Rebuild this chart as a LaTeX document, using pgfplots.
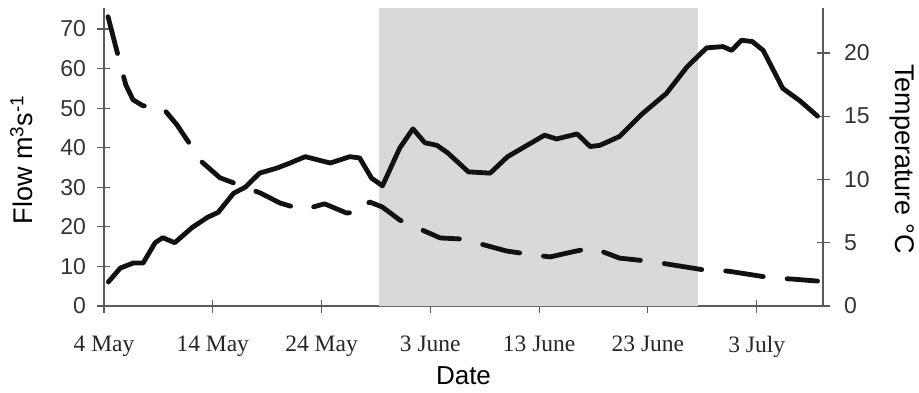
\documentclass[border=0pt]{standalone}
\usepackage{fontspec}
\setmainfont{Liberation Serif}
\setsansfont{Liberation Sans}
\usepackage{pgfplots}
\pgfplotsset{compat=1.18}
\definecolor{shade}{HTML}{D9D9D9}
\definecolor{axgray}{HTML}{5A5A5A}
\definecolor{ink}{HTML}{111111}

\begin{document}
\begin{tikzpicture}
\pgfplotsset{
 every axis/.append style={
  width=719pt, height=298pt, scale only axis,
  xmin=0, xmax=66.1, ymin=0,
  axis line style={axgray, line width=1.4pt},
  tick style={axgray, line width=1.2pt},
  major tick length=13pt, tick align=center,
  /pgf/number format/assume math mode=true,
 }
}
\begin{axis}[name=ax, ymax=75.3,
 axis x line*=bottom, axis y line*=left,
 xtick={0,10,20,30,40,50,60},
 xticklabels={4 May,14 May,24 May,3 June,13 June,23 June,3 July},
 xticklabel style={font=\fontsize{23.5}{23.5}\selectfont\rmfamily, text=black!85, anchor=north, yshift=-20pt},
 ytick={0,10,...,70},
 yticklabel style={font=\fontsize{23}{23}\selectfont\sffamily, text=black!80, xshift=-8pt},
 xlabel={Date},
 ylabel={Flow m\textsuperscript{3}s\textsuperscript{-1}},
 every axis x label/.style={at={(axis description cs:0.5,-0.235)}, anchor=center, font=\fontsize{26}{26}\selectfont\sffamily},
 every axis y label/.style={at={(axis description cs:-0.115,0.49)}, rotate=90, anchor=center, font=\fontsize{27}{27}\selectfont\sffamily},
]
\addplot[fill=shade, draw=none] coordinates {(25.3,0) (25.3,75.3) (54.6,75.3) (54.6,0)} \closedcycle;
% Flow (dashed)
\addplot[ink, line width=4.8pt, line cap=round, line join=round, dash pattern=on 38pt off 24pt] coordinates {
(0.37,73.1) (1.47,61.4) (2.0,55.9) (2.67,52.1) (3.58,50.6) (5.33,50.3)
(6.7,45.8) (9.0,36.4) (10.66,32.4) (14.34,28.6) (16.2,26.0) (18.3,24.3)
(19.85,25.5) (20.3,25.8) (22.3,23.5) (23.7,23.8) (24.4,26.3) (25.6,25.0)
(27.2,21.7) (30.9,17.2) (33.0,16.9) (37.0,13.9) (38.97,13.1) (41.0,12.4)
(43.1,13.7) (44.9,14.7) (47.4,12.1) (49.1,11.6) (51.1,10.9) (55.2,9.1)
(57.4,8.8) (61.4,7.1) (63.3,6.8) (65.6,6.3)
};
\end{axis}
\begin{axis}[ymax=23.55,
 axis x line=none, axis y line*=right,
 ytick={0,5,...,20},
 yticklabel style={font=\fontsize{23}{23}\selectfont\sffamily, text=black!80, xshift=11pt},
 ylabel={Temperature °C},
 every axis y label/.style={at={(axis description cs:1.110,0.493)}, rotate=-90, anchor=center, font=\fontsize{27}{27}\selectfont\sffamily},
]
% Temperature (solid)
\addplot[ink, line width=4.8pt, line cap=round, line join=round] coordinates {
(0.4,1.9) (1.5,3.0) (2.7,3.4) (3.6,3.4) (4.7,5.0) (5.4,5.4) (6.5,5.0)
(8.1,6.2) (9.5,7.0) (10.5,7.4) (11.9,8.9) (13.0,9.4) (14.3,10.5) (15.9,10.9)
(17.1,11.3) (18.5,11.8) (20.8,11.3) (22.6,11.8) (23.5,11.7) (24.6,10.1)
(25.6,9.5) (27.2,12.5) (28.4,14.0) (29.5,12.9) (30.6,12.7) (31.6,12.1)
(33.5,10.6) (35.5,10.5) (37.1,11.8) (38.9,12.7) (40.5,13.5) (41.6,13.2)
(43.5,13.6) (44.7,12.6) (45.6,12.7) (47.4,13.4) (49.5,15.2) (51.7,16.8)
(53.6,18.9) (55.4,20.4) (56.9,20.5) (57.7,20.2) (58.6,21.0) (59.6,20.9)
(60.6,20.2) (62.4,17.2) (64.0,16.2) (65.6,15.0)
};
\end{axis}
\path (ax.south west) ++(-104pt,-86pt);
\path (ax.north east) ++(96pt,8pt);
\end{tikzpicture}
\end{document}
